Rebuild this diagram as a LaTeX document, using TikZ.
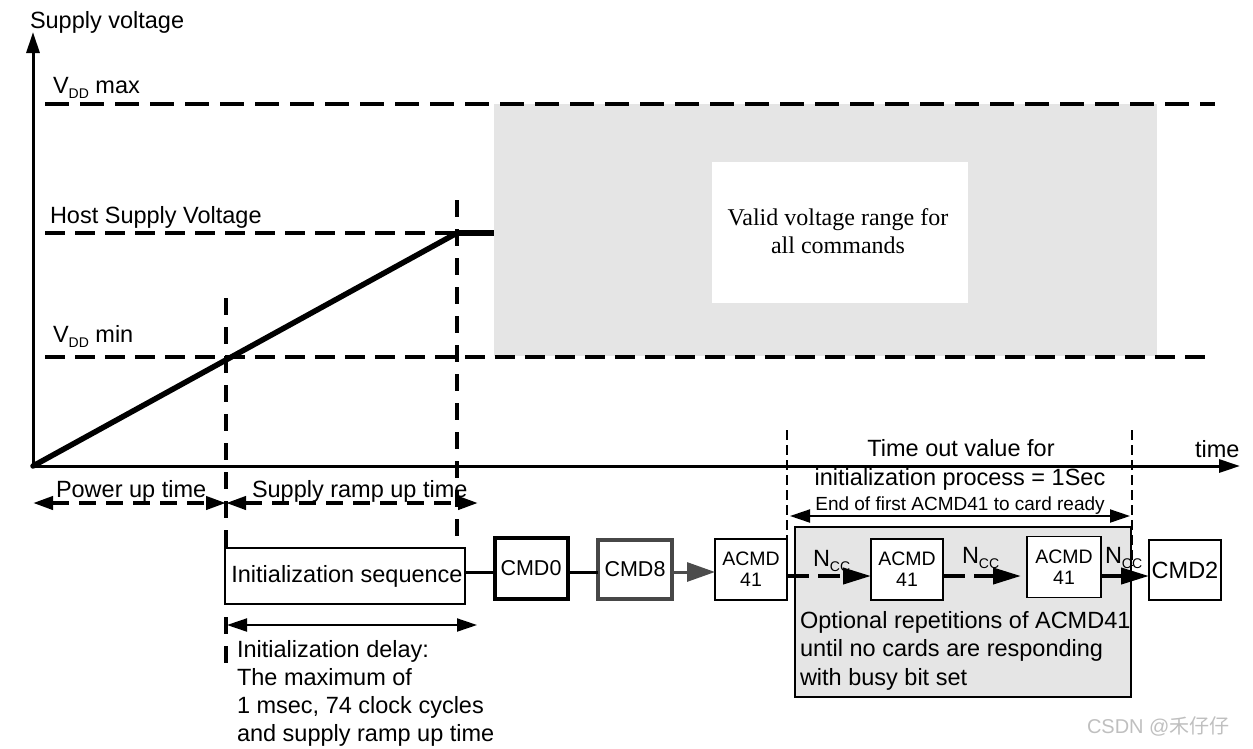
\documentclass[tikz,border=0pt]{standalone}
\usepackage{fontspec}
\setmainfont{Liberation Sans}
\newfontfamily\serifA{Liberation Serif}
\newfontfamily\cjk{Noto Sans CJK SC}
\usetikzlibrary{arrows.meta}
\newcommand\subsc[1]{\raisebox{-5pt}{\fontsize{14}{14}\selectfont #1}}
\begin{document}
\begin{tikzpicture}[x=1pt,y=-1pt,
  every node/.style={inner sep=0pt,outer sep=0pt},
  txt/.style={font=\fontsize{23.5}{28}\selectfont},
  smalltxt/.style={font=\fontsize{19}{21}\selectfont},
  lvl/.style={line width=4pt,dash pattern=on 24pt off 11pt},
  lvlthin/.style={line width=3.2pt,dash pattern=on 20pt off 10pt},
  vdash/.style={line width=3.5pt,dash pattern=on 17pt off 12pt},
  tdash/.style={line width=2.2pt,dash pattern=on 10pt off 5pt},
  tipA/.tip={Triangle[length=20pt,width=13pt]},
  tipB/.tip={Triangle[length=28pt,width=16pt]},
  darrow/.style={line width=4pt,dash pattern=on 17pt off 10pt,tipA-tipA},
  sarrow/.style={line width=2pt,tipA-tipA},
  ncc/.style={line width=4pt,dash pattern=on 22pt off 9pt,-tipB},
  box/.style={draw,line width=1.5pt,fill=white,align=center},
  cmdbox/.style={draw,line width=4pt,fill=white,align=center,font=\fontsize{21.5}{24}\selectfont},
  acmd/.style={box,font=\fontsize{19.5}{21}\selectfont,minimum width=72pt,minimum height=61pt},
]
\useasboundingbox (0,0) rectangle (1253,748);

% valid range area
\fill[gray!20] (494,104) rectangle (1157,356);
\fill[white] (712,162) rectangle (968,303);
\node[font=\serifA\fontsize{24}{28}\selectfont,align=center] (valid) at (838,231) {Valid voltage range for\\all commands};

% axes
\coordinate (O) at (33,466);
\coordinate (ytop) at (33,32);
\coordinate (xend) at (1240,466);
\draw[line width=3pt,-{Triangle[length=21pt,width=13pt]}] (O) -- (ytop);
\draw[line width=3pt,-{Triangle[length=21pt,width=13pt]}] (O) -- (xend);
\node[txt,anchor=base west] (ylab) at (30,28) {Supply voltage};
\node[txt,anchor=base west] (xlab) at (1195,457) {time};

% levels
\draw[lvl] (45,104) -- (1215,104);
\draw[lvlthin] (45,233) -- (457,233);
\draw[lvlthin] (45,357) -- (1215,357);
\node[txt,anchor=base west] (vmax) at (53,93) {V\subsc{DD} max};
\node[txt,anchor=base west] (host) at (50,223) {Host Supply Voltage};
\node[txt,anchor=base west] (vmin) at (53,342) {V\subsc{DD} min};

% ramp
\coordinate (H) at (457,233);
\coordinate (Hend) at (494,233);
\draw[line width=5.5pt,line cap=round] (O) -- (H);
\draw[line width=5.5pt] (H) -- (Hend);

% vertical markers
\draw[vdash] (226,298) -- (226,673);
\draw[vdash] (457,200) -- (457,545);
\draw[tdash] (787,430) -- (787,578);
\draw[tdash] (1132,430) -- (1132,566);

% time spans
\coordinate (p0) at (33,503);
\coordinate (p1) at (226,503);
\coordinate (p2) at (478,503);
\draw[darrow] (p0) -- (p1);
\draw[darrow] (p1) -- (p2);
\node[txt,anchor=base west] (pwr) at (56,497) {Power up time};
\node[txt,anchor=base west] (ramp) at (252,497) {Supply ramp up time};

\coordinate (d0) at (227,625);
\coordinate (d1) at (477,625);
\draw[sarrow] (d0) -- (d1);
\node[txt,anchor=north west,align=left] (delay) at (237,640) {Initialization delay:\\The maximum of\\1 msec, 74 clock cycles\\and supply ramp up time};

\node[txt,anchor=base] (to1) at (961,456) {Time out value for};
\node[txt,anchor=base] (to2) at (960,485) {initialization process = 1Sec};
\node[smalltxt,anchor=base] (to3) at (960,510) {End of first ACMD41 to card ready};
\coordinate (t0) at (790,516);
\coordinate (t1) at (1130,516);
\draw[sarrow] (t0) -- (t1);

% command sequence
\node[box,txt,minimum width=240pt,minimum height=56pt] (init) at (345,576) {\hspace*{4pt}Initialization sequence};
\node[cmdbox,minimum width=73pt,minimum height=61pt] (cmd0) at (531,568.5) {CMD0};
\node[cmdbox,draw=black!72,minimum width=74pt,minimum height=59pt] (cmd8) at (635,569) {CMD8};
\node[acmd] (a1) at (751,569.5) {ACMD\\41};
\node[draw,line width=1.5pt,fill=gray!20,minimum width=336pt,minimum height=170pt] (grp) at (963,612) {};
\node[acmd] (a2) at (907,569.5) {ACMD\\41};
\node[acmd,minimum width=74pt] (a3) at (1064,567) {ACMD\\41};
\node[box,font=\fontsize{23.5}{26}\selectfont,minimum width=72pt,minimum height=60pt] (cmd2) at (1185,570) {CMD2};
\node[txt,anchor=north west,align=left,font=\fontsize{23.5}{28.5}\selectfont] (opt) at (800,611) {Optional repetitions of ACMD41\\until no cards are responding\\with busy bit set};

\coordinate (ly) at (0,572);
\coordinate (ly2) at (0,576);
\draw[line width=3pt] (init.east |- ly) -- (cmd0.west |- ly);
\draw[line width=3pt] (cmd0.east |- ly) -- (cmd8.west |- ly);
\draw[line width=3pt,draw=black!70,fill=black!70,-{Triangle[length=28pt,width=19pt]}] (cmd8.east |- ly) -- (a1.west |- ly);
\draw[ncc] (a1.east |- ly2) -- (a2.west |- ly2);
\draw[ncc] (a2.east |- ly2) -- ([xshift=-6pt]a3.west |- ly2);
\draw[ncc] (a3.east |- ly2) -- (cmd2.west |- ly2);
\node[txt,anchor=base west] (n1) at (813,566) {N\subsc{CC}};
\node[txt,anchor=base west] (n2) at (962,563) {N\subsc{CC}};
\node[txt,anchor=base west] (n3) at (1105,563) {N\subsc{CC}};

\node[anchor=base west,text=gray!50,font=\fontsize{20}{22}\selectfont] (csdn) at (1087,733) {CSDN @{\cjk 禾仔仔}};
\end{tikzpicture}
\end{document}
